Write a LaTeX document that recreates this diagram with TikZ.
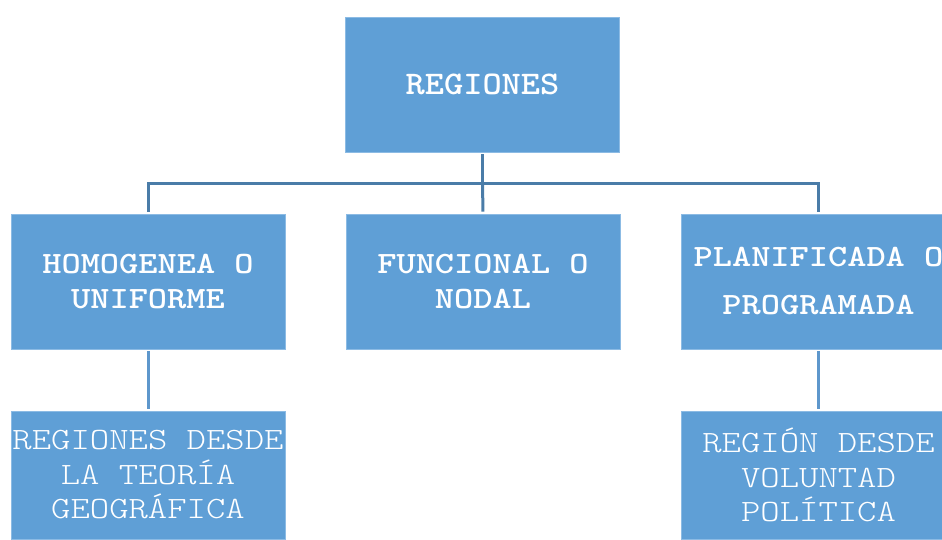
\documentclass[tikz,border=0pt]{standalone}
\usepackage{fontspec}
\newfontfamily\topfont{lmmonolt10-bold.otf}[FakeStretch=1.11]
\newfontfamily\midfont{lmmonolt10-bold.otf}[FakeStretch=1.18]
\newfontfamily\lowfont{lmmonolt10-regular.otf}[FakeStretch=1.19]
\definecolor{boxblue}{HTML}{5F9FD6}
\definecolor{boxedge}{HTML}{8CBBE4}
\definecolor{linedark}{HTML}{4A7CA8}
\definecolor{linelight}{HTML}{5E97CC}
\begin{document}
\begin{tikzpicture}[x=1pt,y=-1pt,
  box/.style={fill=boxblue, draw=boxedge, line width=0.8pt, minimum width=274pt,
    minimum height=135pt, inner sep=0pt, text=white, align=center},
  topbox/.style={box, font=\topfont\fontsize{33}{35}\selectfont},
  midbox/.style={box, font=\midfont\fontsize{31}{35}\selectfont},
  lowbox/.style={box, minimum height=128pt, font=\lowfont\fontsize{31}{34.5}\selectfont},
  conn/.style={draw=linedark, line width=3pt, shorten <=2pt, shorten >=2pt},
  conn2/.style={draw=linelight, line width=3pt, shorten <=2pt, shorten >=2pt}]
\useasboundingbox (0,0) rectangle (942,539);
\clip (0,0) rectangle (942,539);
\node[topbox] (top) at (482.5,84.5) {REGIONES};
\node[midbox] (hom) at (148,281.5) {HOMOGENEA O\\UNIFORME};
\node[midbox] (fun) at (483,281.5) {FUNCIONAL O\\NODAL};
\node[midbox, font=\midfont\fontsize{31}{48}\selectfont] (pla) at (818.5,281.5) {PLANIFICADA O\\PROGRAMADA};
\node[lowbox] (reg1) at (148,475) {REGIONES DESDE\\LA TEOR\'IA\\GEOGR\'AFICA};
\node[lowbox] (reg2) at (818.5,475) {REGI\'ON DESDE\\VOLUNTAD\\POL\'ITICA};
\coordinate (bus) at (482.5,183);
\draw[conn, shorten >=0pt] (top.south) -- (bus);
\draw[conn, shorten <=0pt] (bus) -- (fun.north);
\draw[conn, shorten <=0pt] (bus) -| (hom.north);
\draw[conn, shorten <=0pt] (bus) -| (pla.north);
\draw[conn2] (hom.south) -- (reg1.north);
\draw[conn2] (pla.south) -- (reg2.north);
\end{tikzpicture}
\end{document}
